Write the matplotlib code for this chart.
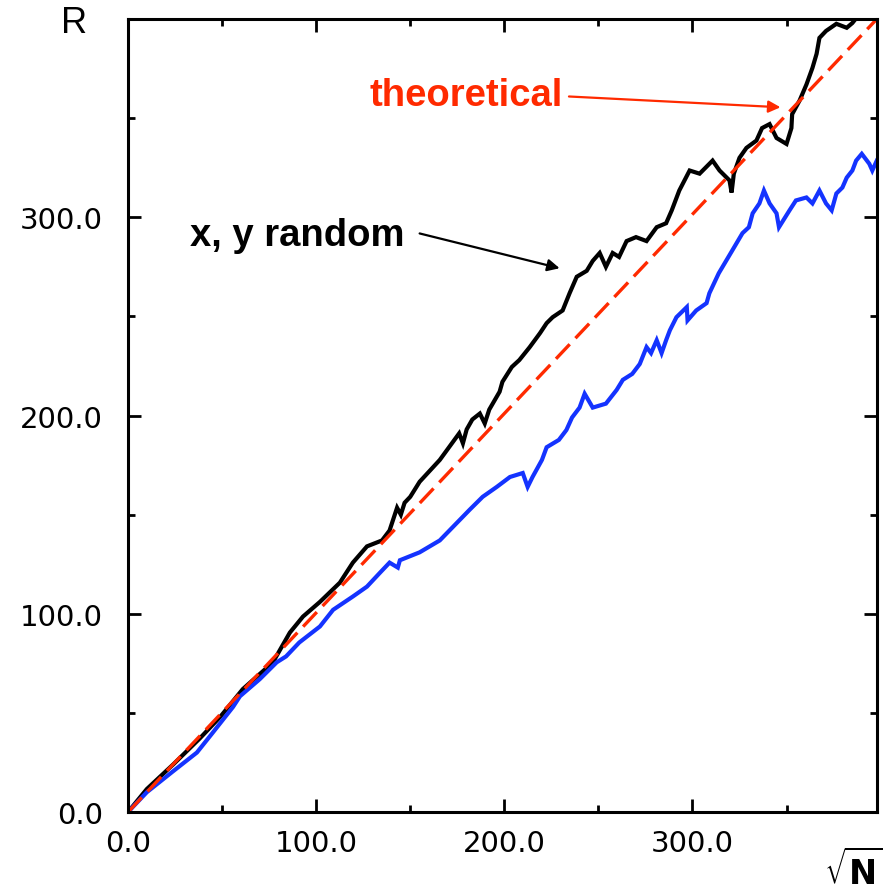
import numpy as np
import matplotlib.pyplot as plt

plt.rcParams['font.family'] = ['Liberation Sans', 'DejaVu Sans']

# black trace: x, y random
xy_x = [0, 10, 24, 38, 49, 61, 77, 86, 93, 102, 112.6, 119.5, 127, 135, 139, 143,
        145, 147, 150, 155, 165.7, 176, 178, 180, 183, 187, 189.6, 192, 197.5, 199,
        204, 208, 213.5, 219, 222.5, 225.7,
        231, 234.7, 238.5, 243.8, 247, 250.7, 254, 257.6, 261, 265, 270, 275.6, 281,
        286, 289, 293, 298.5, 303.8, 310.7, 314.4, 319.7, 320.8, 322, 325, 328.7, 334,
        337, 341, 344.7, 350, 352.6, 353, 357, 360.6, 363.8, 366, 367.5, 371, 376.5,
        382, 385, 390]
xy_y = [0, 11.6, 24, 37, 48, 62, 75.5, 90.5, 98.6, 106, 115.7, 125.8, 134, 137, 142, 153.5,
        150, 156, 159, 166.6, 177.6, 191, 186, 193, 198, 201, 196, 203, 212, 217,
        224.5, 228, 234.5, 241.6, 246.6, 249.6,
        253, 261.7, 270, 273, 278, 282, 275, 282, 280, 288, 290, 288, 295,
        297, 303.5, 313.5, 323.6, 322, 328.6, 323.6, 318.6, 312.5, 322, 330, 335, 338.7,
        345, 347, 340, 337, 345, 352, 359, 367, 375.4, 382.5, 390.5, 394, 397.6,
        395.6, 398, 404]

# blue trace
b_x = [0, 10, 24, 36.6, 45, 55.8, 59.5, 70, 79, 84, 91, 102, 109, 119.5, 127, 134, 139,
       143.4, 144.5, 155, 165.7, 181.6, 188.5, 196, 203, 209.8, 212.4, 215, 220, 222.5, 229,
       233, 236, 240, 242.7, 247, 254, 259.7, 263, 268, 272, 275.6, 278, 281, 283.6, 286, 288,
       291.5, 297, 297.4, 302, 307.5, 309, 314, 321, 326.6, 330, 332, 335.6, 338, 341, 344.7,
       346, 351.6, 355, 360.6, 363.8, 367.5, 371, 374, 376.5, 379.7, 382, 385, 387,
       390, 394, 395.6, 398]
b_y = [0, 10, 20.6, 30, 40, 53, 58.4, 67, 75.5, 78.5, 85.5, 93.6, 102, 108.7, 113.7, 120.8,
       125.8, 123.3, 127, 131, 137, 152.5, 159, 164, 169, 171, 164, 169, 177.6, 184, 187.7,
       192.7, 199, 204, 211, 204, 206, 212.9, 218, 221, 226, 234.5, 231.5, 238, 231.5, 238, 243,
       249.6, 254.7, 248, 253, 256.7, 261.7, 271.8, 283, 292, 295, 302, 307, 313.5, 307, 302,
       295, 303.5, 308.5, 310, 307, 313.5, 307, 303.5, 312, 315, 320, 323.6, 328.6,
       332, 327, 323.6, 328.6]

# theoretical line
th_x = [0, 398]
th_y = [0, 400]

fig = plt.figure(figsize=(8.83, 8.95), dpi=100)
ax = fig.add_axes([0.145, 0.0916, 0.848, 0.886])

ax.plot(xy_x, xy_y, color='black', lw=3, solid_joinstyle='miter')
ax.plot(b_x, b_y, color='#1433ff', lw=3, solid_joinstyle='miter')
ax.plot(th_x, th_y, color='#ff2a00', lw=2.4, dashes=(6, 2.5))

ax.set_xlim(0, 398)
ax.set_ylim(0, 400)

ax.set_xticks([0, 100, 200, 300])
ax.set_yticks([0, 100, 200, 300])
ax.set_xticks(np.arange(50, 400, 100), minor=True)
ax.set_yticks(np.arange(50, 400, 100), minor=True)
ax.set_xticklabels(['0.0', '100.0', '200.0', '300.0'], family='DejaVu Sans')
ax.set_yticklabels(['0.0', '100.0', '200.0', '300.0'], family='DejaVu Sans')

ax.tick_params(which='both', direction='in', top=True, right=True, width=2, colors='black')
ax.tick_params(which='major', length=9.5, labelsize=21)
ax.tick_params(which='minor', length=5)
ax.tick_params(axis='y', which='major', pad=18)
ax.tick_params(axis='x', which='major', pad=12)
for s in ax.spines.values():
    s.set_linewidth(2.2)

ax.annotate('theoretical', xy=(346.8, 355.5), xytext=(128.5, 356.8),
            color='#ff2a00', fontsize=27.5, fontweight='bold', va='baseline', ha='left',
            arrowprops=dict(arrowstyle='-|>', color='#ff2a00', lw=1.6,
                            mutation_scale=18, shrinkA=0, shrinkB=0,
                            relpos=(1.03, 0.45)))
ax.annotate('x, y random', xy=(229.4, 274.3), xytext=(33, 285.9),
            color='black', fontsize=27.5, fontweight='bold', va='baseline', ha='left',
            arrowprops=dict(arrowstyle='-|>', color='black', lw=1.6,
                            mutation_scale=18, shrinkA=0, shrinkB=0,
                            relpos=(1.07, 0.55)))

fig.text(0.0838, 0.974, 'R', fontsize=26, ha='center', va='center')
fig.text(0.966, 0.027, r'$\sqrt{\mathbf{N}}$', fontsize=24, ha='center', va='center')

fig.savefig('out.png', dpi=100)
